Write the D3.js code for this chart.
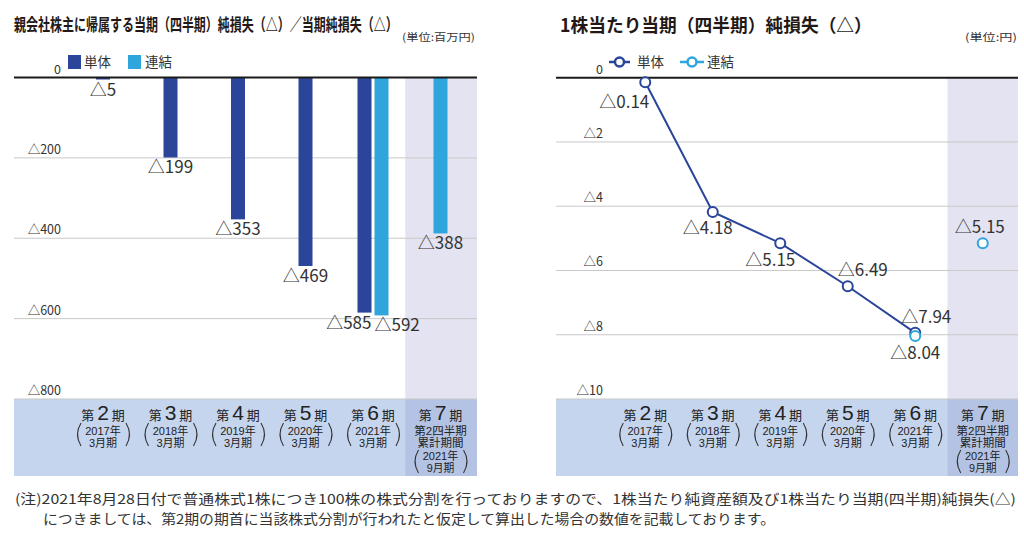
<!DOCTYPE html>
<html><head><meta charset="utf-8">
<script src="https://cdn.jsdelivr.net/npm/d3@7/dist/d3.min.js"></script>
<style>
html,body{margin:0;padding:0;background:#fff;}
svg{display:block;font-family:"Noto Sans CJK JP","Noto Sans",sans-serif;}
.cat{font-family:"Liberation Sans","Noto Sans CJK JP",sans-serif;}
</style></head>
<body>
<svg id="chart" width="1024" height="543"></svg>
<script>
// ---------- data ----------
const categories = ["第2期","第3期","第4期","第5期","第6期","第7期"];
const periodNums = ["2","3","4","5","6","7"];
const periodSub = [
  ["2017年","3月期"],["2018年","3月期"],["2019年","3月期"],
  ["2020年","3月期"],["2021年","3月期"],
  ["第2四半期","累計期間","2021年","9月期"]
];
const seriesNames = ["単体","連結"];
const netLossSingle = [5,199,353,469,585,null];
const netLossConsol = [null,null,null,null,592,388];
const epsSingle = [0.14,4.18,5.15,6.49,7.94,null];
const epsConsol = [null,null,null,null,8.04,5.15];
const leftTicks = [0,200,400,600,800];
const rightTicks = [0,2,4,6,8,10];
const titleLeft = "親会社株主に帰属する当期（四半期）純損失（△）／当期純損失（△）";
const titleRight = "1株当たり当期（四半期）純損失（△）";
const unitLeft = "(単位:百万円)";
const unitRight = "(単位:円)";
const note1 = "(注)2021年8月28日付で普通株式1株につき100株の株式分割を行っておりますので、1株当たり純資産額及び1株当たり当期(四半期)純損失(△)";
const note2 = "につきましては、第2期の期首に当該株式分割が行われたと仮定して算出した場合の数値を記載しております。";

// ---------- style ----------
const C_SINGLE = "#2a4599", C_CONSOL = "#2fa5dd";
const C_BAND = "#c6d5ee", C_BAND_HI = "#b4c3e3", C_HI = "#e3e3f1";
const C_GRID = "#c9c9c9", C_TEXT = "#333";
const fmt = v => "△" + v;

const svg = d3.select("#chart");

function fitted(x, y, width, size, weight, color, str){
  const t = svg.append("text").attr("x",0).attr("y",0).attr("font-size",size)
    .attr("font-weight",weight).attr("fill",color).text(str);
  const w = t.node().getComputedTextLength();
  t.attr("transform", `translate(${x},${y}) scale(${width/w},1)`);
  return t;
}

function panel(opt){
  const g = svg.append("g");
  const x = d3.scaleBand().domain(categories).range(opt.bandRange);
  const y = d3.scaleLinear().domain(opt.domain).range([opt.top, opt.bottom]);
  const cx = c => x(c) + x.bandwidth()/2;
  const last = categories[categories.length-1];
  g.append("rect").attr("x", x(last)-1.5).attr("y", opt.top)
    .attr("width", opt.right - x(last) + 1.5).attr("height", opt.bottom - opt.top)
    .attr("fill", C_HI);
  g.append("rect").attr("x", opt.left).attr("y", opt.bottom)
    .attr("width", opt.right-opt.left).attr("height", 77).attr("fill", C_BAND);
  g.append("rect").attr("x", x(last)-1.5).attr("y", opt.bottom)
    .attr("width", opt.right - x(last) + 1.5).attr("height", 77).attr("fill", C_BAND_HI);
  opt.ticks.filter(t => t !== 0).forEach(t => {
    g.append("line").attr("x1", opt.left).attr("x2", opt.right)
      .attr("y1", y(t)).attr("y2", y(t)).attr("stroke", C_GRID).attr("stroke-width", 1);
  });
  opt.ticks.forEach(t => {
    g.append("text").attr("x", opt.tickX).attr("y", y(t) - 4)
      .attr("text-anchor","end").attr("font-size", 12.5).attr("fill", C_TEXT)
      .text(t === 0 ? "0" : fmt(t));
  });
  categories.forEach((c, i) => {
    const xc = cx(c);
    const t = g.append("text").attr("class","cat").attr("text-anchor","middle").attr("fill", "#222");
    t.append("tspan").attr("x", xc).attr("y", 420).attr("font-size", 13).text("第");
    t.append("tspan").attr("font-size", 21).attr("dx", 3).text(periodNums[i]);
    t.append("tspan").attr("font-size", 13).attr("dx", 3).text("期");
    const sub = periodSub[i];
    let parenTop, parenBot, lines;
    if (sub.length === 2){
      lines = [[sub[0], 434.5, 11],[sub[1], 446.5, 11]];
      parenTop = 423; parenBot = 446;
    } else {
      lines = [[sub[0], 434.5, 11.5],[sub[1], 447, 11.5],[sub[2], 460, 11],[sub[3], 472, 10.8]];
      parenTop = 450; parenBot = 473;
    }
    lines.forEach(([s, yy, fs]) => {
      t.append("tspan").attr("x", xc).attr("y", yy).attr("font-size", fs).text(s);
    });
    const pm = (parenTop+parenBot)/2;
    g.append("path").attr("d", `M${xc-22},${parenTop} Q${xc-29},${pm} ${xc-22},${parenBot}`)
      .attr("fill","none").attr("stroke","#333").attr("stroke-width",1.1);
    g.append("path").attr("d", `M${xc+23},${parenTop} Q${xc+30},${pm} ${xc+23},${parenBot}`)
      .attr("fill","none").attr("stroke","#333").attr("stroke-width",1.1);
  });
  return {g, x, y, cx};
}

// ---------- left: bars ----------
const L = panel({bandRange:[69.25,474.25], domain:[0,800], top:77.5, bottom:399,
  left:14, right:477, ticks:leftTicks, tickX:61});
const bw = 14;
categories.forEach((c, i) => {
  const s = netLossSingle[i], k = netLossConsol[i];
  const both = s != null && k != null;
  const xc = L.cx(c);
  if (s != null){
    const bx = both ? xc - 8.5 - bw/2 : xc - bw/2;
    L.g.append("rect").attr("x", bx).attr("y", L.y(0)).attr("width", bw)
      .attr("height", L.y(s) - L.y(0)).attr("fill", C_SINGLE);
    L.g.append("text")
      .attr("x", both ? bx + bw : bx + bw/2)
      .attr("y", L.y(s) + 16).attr("text-anchor", both ? "end" : "middle")
      .attr("font-size", 17).attr("fill", C_TEXT).text(fmt(s));
  }
  if (k != null){
    const bx = both ? xc + 8.5 - bw/2 : xc - bw/2;
    L.g.append("rect").attr("x", bx).attr("y", L.y(0)).attr("width", bw)
      .attr("height", L.y(k) - L.y(0)).attr("fill", C_CONSOL);
    L.g.append("text")
      .attr("x", both ? bx : bx + bw/2)
      .attr("y", L.y(k) + 16).attr("text-anchor", both ? "start" : "middle")
      .attr("font-size", 17).attr("fill", C_TEXT).text(fmt(k));
  }
});
L.g.append("line").attr("x1",14).attr("x2",477).attr("y1",L.y(0)).attr("y2",L.y(0))
  .attr("stroke","#1a1a1a").attr("stroke-width",2);

// ---------- right: line ----------
const R = panel({bandRange:[611.5,1016.5], domain:[0,10], top:77.7, bottom:399,
  left:556, right:1018, ticks:rightTicks, tickX:603});
const singlePts = categories.map((c,i)=>({c, v:epsSingle[i], i})).filter(d=>d.v!=null);
const consolPts = categories.map((c,i)=>({c, v:epsConsol[i], i})).filter(d=>d.v!=null);
R.g.append("line").attr("x1",556).attr("x2",1018).attr("y1",R.y(0)).attr("y2",R.y(0))
  .attr("stroke","#1a1a1a").attr("stroke-width",2);
R.g.append("path").datum(singlePts)
  .attr("d", d3.line().x(d=>R.cx(d.c)).y(d=>R.y(d.v)))
  .attr("fill","none").attr("stroke",C_SINGLE).attr("stroke-width",2);
R.g.selectAll(".ps").data(singlePts).enter().append("circle")
  .attr("cx", d=>R.cx(d.c)).attr("cy", d=>R.y(d.v)).attr("r",5)
  .attr("fill","#fff").attr("stroke",C_SINGLE).attr("stroke-width",2);
R.g.selectAll(".pc").data(consolPts).enter().append("circle")
  .attr("cx", d=>R.cx(d.c)).attr("cy", d=>R.y(d.v)).attr("r",5)
  .attr("fill","#fff").attr("stroke",C_CONSOL).attr("stroke-width",2);
const singleLab = [[-21,20],[-5,16],[-10,17],[15,-16],[11,-16]];
const consolLab = {4:[0,17],5:[-3,-16]};
singlePts.forEach((d,j) => {
  const [dx,dy] = singleLab[j];
  R.g.append("text").attr("x", R.cx(d.c)+dx).attr("y", R.y(d.v)+dy+6)
    .attr("text-anchor","middle").attr("font-size",17).attr("fill",C_TEXT).text(fmt(d.v));
});
consolPts.forEach(d => {
  const [dx,dy] = consolLab[d.i];
  R.g.append("text").attr("x", R.cx(d.c)+dx).attr("y", R.y(d.v)+dy+6)
    .attr("text-anchor","middle").attr("font-size",17).attr("fill",C_TEXT).text(fmt(d.v.toFixed(2)));
});

// ---------- legends ----------
svg.append("rect").attr("x",68).attr("y",55).attr("width",13).attr("height",14).attr("fill",C_SINGLE);
svg.append("text").attr("x",84).attr("y",67).attr("font-size",13.5).attr("fill",C_TEXT).text(seriesNames[0]);
svg.append("rect").attr("x",128).attr("y",55).attr("width",13).attr("height",14).attr("fill",C_CONSOL);
svg.append("text").attr("x",145).attr("y",67).attr("font-size",13.5).attr("fill",C_TEXT).text(seriesNames[1]);
[[609,630,637,C_SINGLE,0],[680,704,707,C_CONSOL,1]].forEach(([a,b,tx,col,i])=>{
  svg.append("line").attr("x1",a).attr("x2",b).attr("y1",62).attr("y2",62).attr("stroke",col).attr("stroke-width",2.5);
  svg.append("circle").attr("cx",(a+b)/2).attr("cy",62).attr("r",4.5).attr("fill","#fff").attr("stroke",col).attr("stroke-width",2.5);
  svg.append("text").attr("x",tx).attr("y",67).attr("font-size",13.5).attr("fill",C_TEXT).text(seriesNames[i]);
});

// ---------- titles ----------
fitted(14, 31, 384, 17, 700, "#231815", titleLeft);
fitted(560, 32, 312, 18, 700, "#231815", titleRight);
fitted(402, 41, 73, 10.5, 400, C_TEXT, unitLeft);
fitted(965, 41, 52, 10.5, 400, C_TEXT, unitRight);

// ---------- footnote ----------
fitted(15, 504, 1002, 13.5, 400, C_TEXT, note1);
fitted(43, 524, 733, 13.5, 400, C_TEXT, note2);
</script>
</body></html>
